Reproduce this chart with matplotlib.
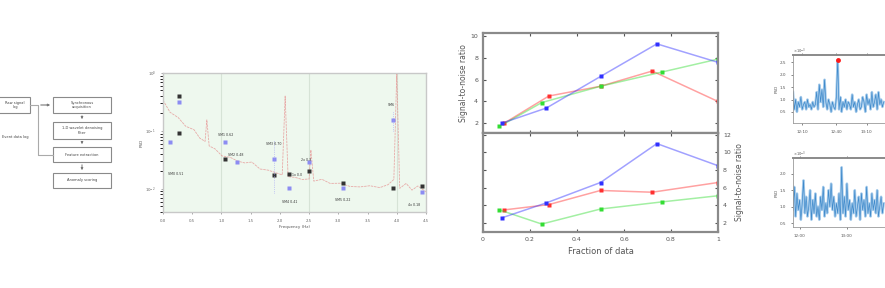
#!/usr/bin/env python3
from __future__ import annotations

import matplotlib

matplotlib.use("Agg")
import matplotlib.pyplot as plt
from matplotlib.patches import FancyArrowPatch, Rectangle

FIG_W, FIG_H = 885, 288

# flowchart text
FLOW_SOURCE = "Raw signal\nlog"
FLOW_NOTE = "Event data log"
FLOW_STEPS = [
    "Synchronous\nacquisition",
    "1-D wavelet denoising\nfilter",
    "Feature extraction",
    "Anomaly scoring",
]

# spectrum (frequency in Hz, PSD)
SPEC_FREQ = [0.0, 0.12, 0.26, 0.39, 0.53, 0.63, 0.72, 0.75, 0.79, 0.89, 1.01, 1.15,
             1.28, 1.40, 1.52, 1.66, 1.80, 1.93, 2.04, 2.09, 2.14, 2.26, 2.38, 2.50,
             2.53, 2.58, 2.72, 2.86, 3.03, 3.20, 3.37, 3.54, 3.71, 3.85, 3.95, 4.00,
             4.05, 4.16, 4.26, 4.36, 4.50]
SPEC_PSD = [0.34, 0.21, 0.17, 0.12, 0.105, 0.075, 0.066, 0.155, 0.055, 0.049, 0.037, 0.035,
            0.030, 0.028, 0.029, 0.022, 0.021, 0.019, 0.0174, 0.40, 0.0162, 0.0158, 0.0145, 0.0148,
            0.047, 0.0136, 0.0146, 0.0124, 0.0125, 0.0110, 0.0108, 0.0113, 0.0105, 0.0118, 0.0145, 1.0,
            0.0102, 0.0124, 0.0095, 0.0112, 0.0089]
GUIDE_FREQ = [1.0, 2.5, 4.0]
PEAK_FREQ = [0.27, 0.27, 1.06, 1.90, 2.16, 2.50, 3.08, 3.94, 4.43]
PEAK_PSD = [0.40, 0.093, 0.033, 0.0174, 0.018, 0.0204, 0.0127, 0.0104, 0.0113]
MODEL_FREQ = [0.27, 0.12, 1.06, 1.27, 1.90, 2.16, 2.50, 3.08, 3.94, 4.43]
MODEL_PSD = [0.32, 0.065, 0.065, 0.029, 0.033, 0.0104, 0.029, 0.0104, 0.155, 0.0089]
TAG_FREQ = [0.22, 1.08, 1.25, 1.90, 2.30, 2.45, 2.16, 3.08, 3.90, 4.30]
TAG_PSD = [0.018, 0.085, 0.038, 0.060, 0.0175, 0.031, 0.0060, 0.0063, 0.28, 0.0053]
TAG_TEXT = ["SM0 0.51", "SM1 0.62", "SM2 0.48", "SM3 0.70", "1x 0.0", "2x 0.3",
            "SM4 0.41", "SM5 0.22", "SM6", "4x 0.18"]

# SNR versus fraction of data
FRAC_BLUE = [0.08, 0.27, 0.50, 0.74, 1.0]
FRAC_RED = [0.09, 0.28, 0.50, 0.72, 1.0]
FRAC_GREEN = [0.07, 0.25, 0.50, 0.76, 1.0]
SNR_TOP_BLUE = [2.0, 3.4, 6.3, 9.3, 7.6]
SNR_TOP_RED = [2.0, 4.5, 5.4, 6.8, 4.0]
SNR_TOP_GREEN = [1.7, 3.9, 5.4, 6.7, 7.9]
SNR_BOT_BLUE = [2.6, 4.3, 6.6, 11.0, 8.5]
SNR_BOT_RED = [3.5, 4.1, 5.7, 5.5, 6.6]
SNR_BOT_GREEN = [3.5, 1.9, 3.6, 4.4, 5.1]

# time series
TS_TOP = [1.3, 0.6, 1.0, 0.5, 0.9, 0.7, 1.1, 0.6, 0.8, 0.9, 0.6, 1.0, 0.7, 0.8, 0.6, 0.9,
          0.7, 0.8, 1.3, 0.6, 1.6, 0.9, 1.4, 0.7, 1.8, 0.9, 0.6, 1.0, 0.8, 0.5, 0.9, 0.7,
          0.6, 1.1, 2.6, 0.6, 1.1, 0.5, 0.9, 0.7, 1.0, 0.6, 0.9, 0.8, 0.6, 1.2, 0.7, 0.9,
          0.5, 0.8, 1.0, 0.6, 0.7, 1.1, 0.9, 0.5, 1.2, 0.8, 1.0, 0.6, 1.3, 0.7, 0.9, 1.2,
          0.6, 1.3, 0.8, 1.0, 0.7, 0.9]
TS_BOT = [0.9, 1.6, 0.7, 1.4, 0.9, 1.2, 0.6, 1.1, 1.8, 0.8, 1.3, 0.7, 1.0, 1.5, 0.6, 1.2,
          0.8, 1.4, 0.7, 1.0, 0.6, 1.3, 0.9, 1.6, 0.7, 1.1, 0.8, 1.5, 1.0, 1.7, 0.9, 1.3,
          0.7, 1.1, 0.8, 1.4, 0.6, 2.2, 0.8, 1.3, 0.7, 1.7, 0.9, 1.2, 0.6, 1.1, 0.8, 1.5,
          0.7, 1.0, 1.3, 0.6, 1.4, 0.9, 1.2, 0.7, 1.6, 0.8, 1.1, 0.7, 1.4, 0.9, 1.2, 0.8,
          1.5, 0.7, 1.0, 1.3, 0.8, 1.1]
TS_TOP_TICKS = [7, 33, 56]
TS_TOP_LABELS = ["12:10", "12:40", "13:10"]
TS_BOT_TICKS = [5, 41]
TS_BOT_LABELS = ["12:00", "13:00"]


def px_axes(fig, x0, y0, x1, y1, **kw):
    return fig.add_axes([x0 / FIG_W, 1 - y1 / FIG_H, (x1 - x0) / FIG_W, (y1 - y0) / FIG_H], **kw)


def draw_flowchart(ax):
    edge = "#8a8a8a"
    ax.add_patch(Rectangle((-30, 97), 60, 16, fill=False, ec=edge, lw=0.8))
    ax.text(15, 105, FLOW_SOURCE, fontsize=2.6, ha="center", va="center", color="#444")
    ax.text(2, 137, FLOW_NOTE, fontsize=2.6, ha="left", va="center", color="#444")
    tops = [97, 122, 147, 173]
    heights = [16, 17, 15, 15]
    for label, top, h in zip(FLOW_STEPS, tops, heights):
        ax.add_patch(Rectangle((53, top), 58, h, fill=False, ec=edge, lw=0.8))
        ax.text(82, top + h / 2, label, fontsize=2.6, ha="center", va="center", color="#444")
    ax.plot([30, 38, 38, 53], [105, 105, 155, 155], color="#aaa", lw=0.8)
    ax.add_patch(FancyArrowPatch((38, 105), (53, 105), arrowstyle="-|>", mutation_scale=3,
                                 color="#777", lw=0.8))
    for top, h, nxt in zip(tops[:-1], heights[:-1], tops[1:]):
        ax.add_patch(FancyArrowPatch((82, top + h), (82, nxt), arrowstyle="-|>",
                                     mutation_scale=3, color="#777", lw=0.7))


def draw_spectrum(ax):
    ax.set_facecolor("#eef8ee")
    for f in GUIDE_FREQ:
        ax.axvline(f, color="#d6e3d6", lw=0.8, zorder=0)
    ax.plot(SPEC_FREQ, SPEC_PSD, color="#e58a8a", lw=0.6, alpha=0.7, ls=(0, (3, 1)))
    ax.plot(MODEL_FREQ, MODEL_PSD, "s", color="#8c8cf2", ms=2.5, mec="none")
    ax.plot(PEAK_FREQ, PEAK_PSD, "s", color="#333", ms=2.5, mec="none")
    for f, p, t in zip(TAG_FREQ, TAG_PSD, TAG_TEXT):
        ax.text(f, p, t, fontsize=2.3, color="#333", ha="center", va="center")
    ax.vlines([1.90, 3.94], [0.0085, 0.10], [0.07, 0.22], color="#a0a0f5", lw=0.5, ls=":")
    ax.set_yscale("log")
    ax.set_xlim(0, 4.5)
    ax.set_ylim(10 ** -2.4, 1.0)
    ax.set_xticks([0.5 * i for i in range(10)])
    ax.set_xticklabels([f"{0.5 * i:.1f}" for i in range(10)])
    ax.tick_params(labelsize=2.8, length=1.5, width=0.4, colors="#666")
    ax.set_xlabel("Frequency (Hz)", fontsize=3, color="#555", labelpad=1.5)
    ax.set_ylabel("PSD", fontsize=3, color="#555", labelpad=1)
    for s in ax.spines.values():
        s.set_color("#c8c8c8")
        s.set_linewidth(1.0)


def style_snr(ax):
    for s in ax.spines.values():
        s.set_color("#8a8a8a")
        s.set_linewidth(1.6)
    ax.tick_params(labelsize=4.5, colors="#555", direction="in", length=2, width=0.8,
                   top=True, right=True)
    ax.set_xlim(0, 1)


def draw_snr(ax_top, ax_bot):
    series_top = [(FRAC_RED, SNR_TOP_RED, "#ff3030"), (FRAC_GREEN, SNR_TOP_GREEN, "#33dd33"),
                  (FRAC_BLUE, SNR_TOP_BLUE, "#3030ff")]
    series_bot = [(FRAC_RED, SNR_BOT_RED, "#ff3030"), (FRAC_GREEN, SNR_BOT_GREEN, "#33dd33"),
                  (FRAC_BLUE, SNR_BOT_BLUE, "#3030ff")]
    for ax, series in ((ax_top, series_top), (ax_bot, series_bot)):
        for x, y, c in series:
            ax.plot(x, y, color=c, lw=1.1, alpha=0.45)
            ax.plot(x, y, "s", color=c, ms=3.0, mec="none")
        style_snr(ax)
    ax_top.set_ylim(1.1, 10.3)
    ax_top.set_yticks([2, 4, 6, 8, 10])
    ax_top.set_yticklabels(["2", "4", "6", "8", "10"])
    ax_top.set_xticks([0.2, 0.4, 0.6, 0.8])
    ax_top.tick_params(labelbottom=False)
    ax_top.set_ylabel("Signal-to-noise ratio", fontsize=5.5, color="#555", labelpad=2)

    ax_bot.set_ylim(1.0, 12.2)
    ax_bot.set_yticks([2, 4, 6, 8, 10, 12])
    ax_bot.tick_params(labelleft=False, labelright=True)
    ax_bot.set_xticks([0, 0.2, 0.4, 0.6, 0.8, 1])
    ax_bot.set_xticklabels(["0", "0.2", "0.4", "0.6", "0.8", "1"])
    ax_bot.yaxis.set_label_position("right")
    ax_bot.set_ylabel("Signal-to-noise ratio", fontsize=5.5, color="#555", labelpad=3)
    ax_bot.set_xlabel("Fraction of data", fontsize=6, color="#555", labelpad=4)


def draw_series(ax, values, ylim, yticks, xticks, xlabels, mark_peak=False):
    x = list(range(len(values)))
    ax.plot(x, values, color="#a9cdec", lw=1.8)
    ax.plot(x, values, color="#3f8acb", lw=0.5)
    if mark_peak:
        i = values.index(max(values))
        ax.plot([i], [values[i]], "o", color="#ff1a1a", ms=3.5, mec="none")
    ax.set_xlim(0, 108)
    ax.set_ylim(*ylim)
    ax.set_yticks(yticks)
    ax.set_xticks(xticks)
    ax.set_xticklabels(xlabels)
    ax.tick_params(labelsize=3, colors="#555", length=1.5, width=0.5, top=True)
    ax.set_ylabel("PSD", fontsize=3, color="#555", labelpad=1)
    ax.spines["top"].set_color("#8a8a8a")
    ax.spines["top"].set_linewidth(1.4)
    for name in ("left", "bottom", "right"):
        ax.spines[name].set_color("#9a9a9a")
        ax.spines[name].set_linewidth(0.6)
    ax.text(0.0, 1.03, r"$\times10^{-3}$", transform=ax.transAxes, fontsize=2.6, color="#555")


def main() -> None:
    fig = plt.figure(figsize=(FIG_W / 100, FIG_H / 100), dpi=100)
    fig.patch.set_facecolor("white")

    ax0 = fig.add_axes([0, 0, 1, 1])
    ax0.set_xlim(0, FIG_W)
    ax0.set_ylim(FIG_H, 0)
    ax0.axis("off")
    draw_flowchart(ax0)

    draw_spectrum(px_axes(fig, 163, 73, 426, 212))

    ax_top = px_axes(fig, 483, 33, 718, 133)
    ax_bot = px_axes(fig, 483, 133, 718, 232)
    draw_snr(ax_top, ax_bot)

    ax_ts1 = px_axes(fig, 793, 55, 935, 123)
    draw_series(ax_ts1, TS_TOP, (0.05, 2.8), [0.5, 1.0, 1.5, 2.0, 2.5],
                TS_TOP_TICKS, TS_TOP_LABELS, mark_peak=True)
    ax_ts2 = px_axes(fig, 793, 158, 935, 227)
    draw_series(ax_ts2, TS_BOT, (0.38, 2.48), [0.5, 1.0, 1.5, 2.0],
                TS_BOT_TICKS, TS_BOT_LABELS)

    fig.savefig("out.png", dpi=100)
    plt.close(fig)


if __name__ == "__main__":
    main()
